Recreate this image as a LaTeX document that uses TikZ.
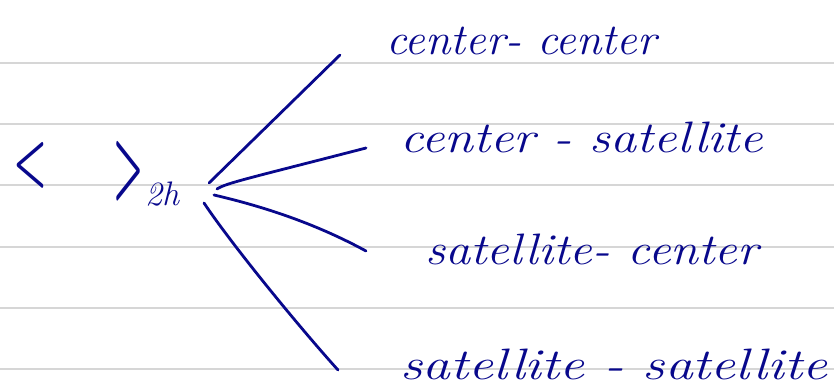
\documentclass[tikz,border=0pt]{standalone}
\usepackage{graphicx}
\usepackage{amsmath}
\definecolor{ink}{RGB}{8,8,140}
\definecolor{rulegray}{RGB}{214,214,214}
\tikzset{
  ruling/.style={draw=rulegray, line width=2.2pt},
  pen/.style={draw=ink, line width=2.8pt, line cap=round, line join=round},
  script/.style={text=ink, inner sep=0pt, anchor=base west,
                 font=\fontsize{44}{50}\selectfont\itshape},
  glyph/.style={text=ink, inner sep=0pt},
}
% stretch a text horizontally to a given width, keeping its height
\newcommand{\fitw}[2]{\resizebox{#1}{\height}{#2}}

\begin{document}
\begin{tikzpicture}[x=1pt,y=-1pt]
\useasboundingbox (0,0) rectangle (834,387);

% ruled paper
\foreach \y in {62.7,124,185.3,246.6,307.9,369.2}
  \draw[ruling] (0,\y) -- (834,\y);

% two-halo bracket
\node[glyph] (lbr) at (31,165) {\resizebox{34pt}{40pt}{$\boldsymbol{<}$}};
\node[glyph] (rbr) at (128,171) {\resizebox{30pt}{52pt}{$\boldsymbol{>}$}};
\node[glyph, anchor=base west, font=\fontsize{34}{40}\selectfont\itshape] (sub) at (145,206) {2h};

% the four terms
\node[script] (cc) at (386,55)  {\fitw{270pt}{center- center}};
\node[script] (cs) at (400,153) {\fitw{363pt}{center - satellite}};
\node[script] (sc) at (425,265) {\fitw{333pt}{satellite- center}};
\node[script] (ss) at (400,379) {\fitw{427pt}{satellite - satellite}};

% fan of strokes from the bracket to the terms
\coordinate (f1) at (209,183); \coordinate (e1) at (340,55);
\coordinate (f2) at (217,189); \coordinate (e2) at (366,148);
\coordinate (f3) at (214,195); \coordinate (e3) at (366,251);
\coordinate (f4) at (204,203); \coordinate (e4) at (338,370);

\draw[pen] (f1) -- (e1);
\draw[pen] (f2) .. controls (226,183) and (250,178) .. (e2);
\draw[pen] (f3) .. controls (270,208) and (320,226) .. (e3);
\draw[pen] (f4) .. controls (232,245) and (300,328) .. (e4);
\end{tikzpicture}
\end{document}
